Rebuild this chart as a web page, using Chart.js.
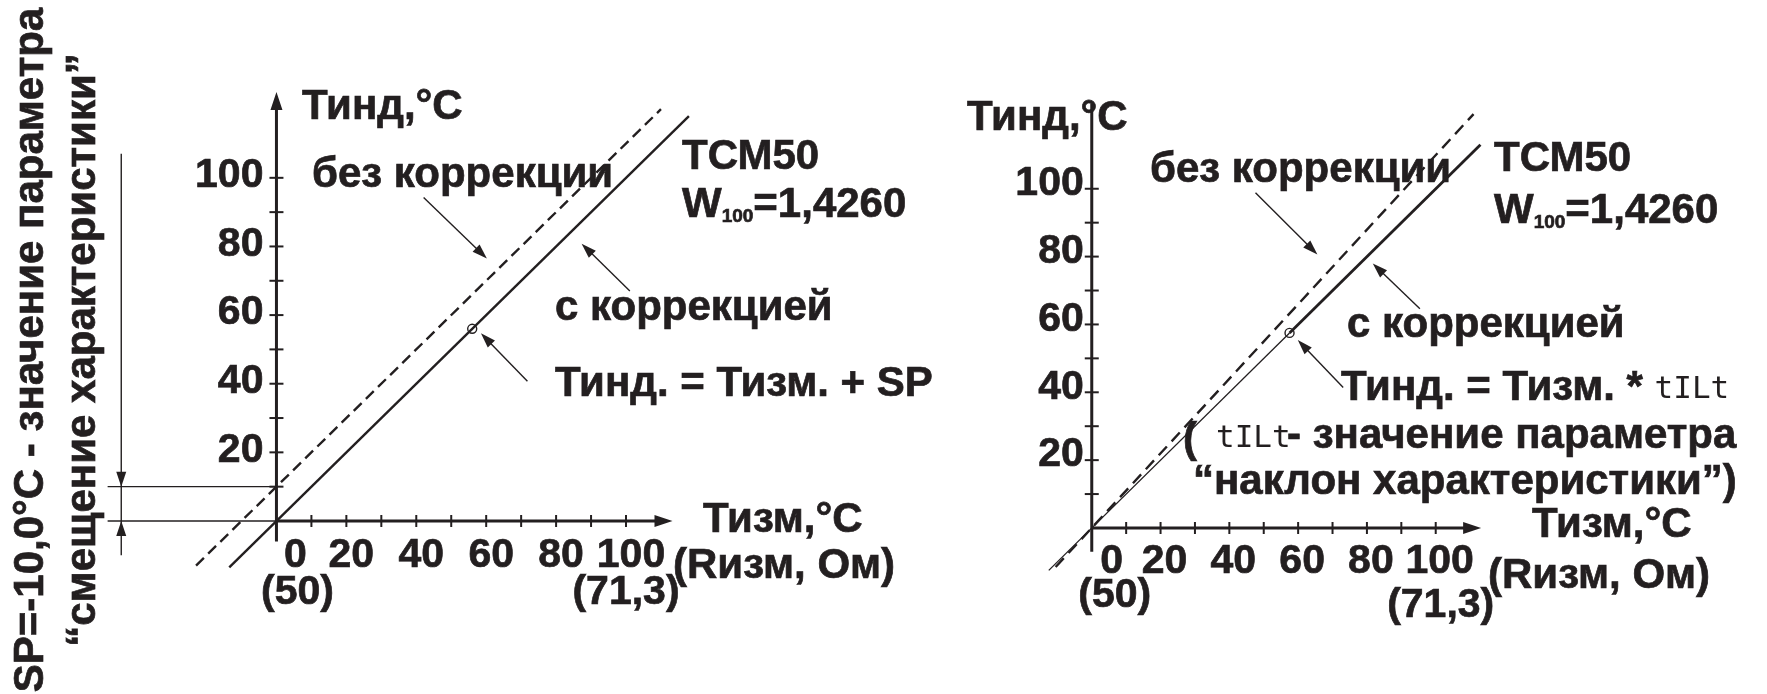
<!DOCTYPE html>
<html lang="ru">
<head>
<meta charset="utf-8">
<title>Коррекция характеристики ТСМ50</title>
<script src="https://cdn.jsdelivr.net/npm/chart.js@4.4.1/dist/chart.umd.min.js"></script>
<style>
  html, body { margin: 0; padding: 0; background: #fff; }
  #wrap { position: relative; width: 1767px; height: 694px; overflow: hidden; background: #fff; }
  canvas { position: absolute; top: 0; }
  #leftChart { left: 0; }
  #rightChart { left: 950px; }
</style>
</head>
<body>
<div id="wrap">
  <canvas id="leftChart" width="950" height="694"></canvas>
  <canvas id="rightChart" width="817" height="694"></canvas>
</div>
<script>
// --- Деления и подписи осей ---
const minorTicks = [10, 20, 30, 40, 50, 60, 70, 80, 90, 100];
const yTickValues = [20, 40, 60, 80, 100];
const yTickLabels = ['20', '40', '60', '80', '100'];
const xTickValues = [0, 20, 40, 60, 80, 100];
const xTickLabels = ['0', '20', '40', '60', '80', '100'];
const ohmTickValues = [0, 100];
const ohmTickLabels = ['(50)', '(71,3)'];

// смещение характеристики, °C
const SP = -10;

// --- Левый график: смещение ---
const leftRawX = [-23, 110];      // без коррекции
const leftRawY = [-13, 120];
const leftCorrX = [-13.5, 118];   // с коррекцией
const leftCorrY = [-13.5, 118];
const leftPointX = [56];
const leftPointY = [56];

// --- Правый график: наклон ---
const rightRawX = [-10.5, 111];
const rightRawY = [-11.5, 122];
const rightCorrThinX = [-12.5, 57.5];
const rightCorrThinY = [-12.5, 57.5];
const rightCorrX = [57.5, 113];
const rightCorrY = [57.5, 113];
const rightPointX = [57.5];
const rightPointY = [57.5];

const INK = '#231f20';
const FONT = 'bold 42px "Liberation Sans", Arial, sans-serif';
const TICK_FONT = 'bold 41px "Liberation Sans", Arial, sans-serif';
const SUB_FONT = 'bold 19px "Liberation Sans", Arial, sans-serif';
const SEG_FONT = '31px "DejaVu Sans Mono", monospace';

function toPoints(xs, ys) {
    return xs.map((x, i) => ({ x: x, y: ys[i] }));
}

function line(ctx, x1, y1, x2, y2) {
    ctx.beginPath();
    ctx.moveTo(x1, y1);
    ctx.lineTo(x2, y2);
    ctx.stroke();
}

// залитый наконечник стрелки с остриём в (x1, y1)
function head(ctx, x0, y0, x1, y1, len, half) {
    const a = Math.atan2(y1 - y0, x1 - x0);
    const bx = x1 - len * Math.cos(a), by = y1 - len * Math.sin(a);
    ctx.beginPath();
    ctx.moveTo(x1, y1);
    ctx.lineTo(bx + half * Math.sin(a), by - half * Math.cos(a));
    ctx.lineTo(bx - half * Math.sin(a), by + half * Math.cos(a));
    ctx.closePath();
    ctx.fill();
}

function pointer(ctx, x0, y0, x1, y1) {
    const a = Math.atan2(y1 - y0, x1 - x0);
    ctx.lineWidth = 1.4;
    line(ctx, x0, y0, x1 - 12 * Math.cos(a), y1 - 12 * Math.sin(a));
    head(ctx, x0, y0, x1, y1, 15, 5);
}

// текст чуть "жирнее" за счёт тонкой обводки, как в оригинале
function text(ctx, str, x, y, font, align) {
    ctx.font = font || FONT;
    ctx.textAlign = align || 'left';
    ctx.textBaseline = 'alphabetic';
    ctx.fillText(str, x, y);
    if (font !== SEG_FONT) {
        ctx.lineWidth = 0.7;
        ctx.strokeText(str, x, y);
    }
    return ctx.measureText(str).width;
}

function rotatedText(ctx, str, x, y) {
    ctx.save();
    ctx.translate(x, y);
    ctx.rotate(-Math.PI / 2);
    text(ctx, str, 0, 0, FONT, 'center');
    ctx.restore();
}

// строка "W100=1,4260" с нижним индексом
function wLine(ctx, x, y) {
    let w = text(ctx, 'W', x, y);
    w += text(ctx, '100', x + w, y + 5, SUB_FONT);
    text(ctx, '=1,4260', x + w, y);
}

const leftPanel = {
    name: 'left',
    xMin: -77.4, xMax: 191, yMin: -48.7, yMax: 150.1,
    yAxisFrom: -6, yAxisTo: 125, yArrow: true, xAxisTo: 113.3,
    yLabelGap: 13, yLabelShift: -2,
    xLabelShift: 5, xZeroShift: 19, xLabelDrop: 46,
    ohmShift: [21, 0], ohmDrop: [83, 83],
    pointers: [[42.1, 94.3, 60.2, 76.5], [101.1, 67.0, 87.3, 80.8], [71.8, 40.7, 58.5, 54.7]],
    notes(ctx) {
        text(ctx, 'Тинд,°C', 302, 119);
        text(ctx, 'без коррекции', 312, 187);
        text(ctx, 'ТСМ50', 682, 169);
        wLine(ctx, 682, 217);
        text(ctx, 'с коррекцией', 555, 320);
        text(ctx, 'Тинд. = Тизм. + SP', 555, 396);
        text(ctx, 'Тизм,°C', 703, 532);
        text(ctx, '(Rизм, Ом)', 673, 578);
        rotatedText(ctx, 'SP=-10,0°C - значение параметра', 43, 350);
        rotatedText(ctx, '“смещение характеристики”', 95, 350);
    },
    // размерная линия для SP
    extra(ctx, px, py) {
        const dimX = px(-44.4);
        ctx.lineWidth = 1.4;
        line(ctx, px(-48.3), py(-SP), px(0), py(-SP));
        line(ctx, px(-48.3), py(0), px(0), py(0));
        line(ctx, dimX, py(107), dimX, py(-10));
        head(ctx, dimX, py(107), dimX, py(-SP), 15, 5);
        head(ctx, dimX, py(-10), dimX, py(0), 15, 5);
    }
};

const rightPanel = {
    name: 'right',
    xMin: -39.5, xMax: 194.6, yMin: -47.2, yMax: 153.9,
    yAxisFrom: -7, yAxisTo: 125, yArrow: false, xAxisTo: 113.2,
    yLabelGap: 8, yLabelShift: -5,
    xLabelShift: 4, xZeroShift: 20, xLabelDrop: 45,
    ohmShift: [23, 5], ohmDrop: [79, 89],
    pointers: [[47.6, 98.8, 65.6, 80.6], [95.4, 64.6, 81.7, 78.0], [73.1, 41.4, 59.9, 55.4]],
    notes(ctx) {
        text(ctx, 'Тинд,°C', 17, 130);
        text(ctx, 'без коррекции', 200, 182);
        text(ctx, 'ТСМ50', 544, 171);
        wLine(ctx, 544, 223);
        text(ctx, 'с коррекцией', 397, 337);
        const w = text(ctx, 'Тинд. = Тизм. * ', 391, 400);
        text(ctx, 'tILt', 391 + w, 398, SEG_FONT);
        text(ctx, '(', 233, 452);
        text(ctx, 'tILt', 266, 447, SEG_FONT);
        text(ctx, '- значение параметра', 337, 448);
        text(ctx, '“наклон характеристики”)', 243, 494);
        text(ctx, 'Тизм,°C', 582, 537);
        text(ctx, '(Rизм, Ом)', 538, 588);
    },
    extra() {}
};

function makeDiagramPlugin(panel) {
    return {
        id: 'diagram_' + panel.name,
        afterDatasetsDraw(chart) {
            const ctx = chart.ctx;
            const px = v => chart.scales.x.getPixelForValue(v);
            const py = v => chart.scales.y.getPixelForValue(v);
            const x0 = px(0), y0 = py(0);

            ctx.save();
            ctx.strokeStyle = INK;
            ctx.fillStyle = INK;

            // оси
            ctx.lineWidth = 3;
            const yTop = py(panel.yAxisTo);
            line(ctx, x0, py(panel.yAxisFrom), x0, panel.yArrow ? yTop + 12 : yTop);
            if (panel.yArrow) head(ctx, x0, y0, x0, yTop, 18, 6);
            const xEnd = px(panel.xAxisTo);
            line(ctx, x0, y0, xEnd - 12, y0);
            head(ctx, x0, y0, xEnd, y0, 18, 6);

            // деления
            ctx.lineWidth = 2;
            minorTicks.forEach(v => {
                line(ctx, x0 - 7, py(v), x0 + 7, py(v));
                line(ctx, px(v), y0 - 6, px(v), y0 + 6);
            });

            // подписи делений
            yTickValues.forEach((v, i) => {
                ctx.font = TICK_FONT;
                ctx.textAlign = 'right';
                ctx.textBaseline = 'middle';
                ctx.lineWidth = 0.7;
                ctx.fillText(yTickLabels[i], x0 - panel.yLabelGap, py(v) + panel.yLabelShift);
                ctx.strokeText(yTickLabels[i], x0 - panel.yLabelGap, py(v) + panel.yLabelShift);
            });
            xTickValues.forEach((v, i) => {
                const shift = v === 0 ? panel.xZeroShift : panel.xLabelShift;
                text(ctx, xTickLabels[i], px(v) + shift, y0 + panel.xLabelDrop, TICK_FONT, 'center');
            });
            ohmTickValues.forEach((v, i) => {
                text(ctx, ohmTickLabels[i], px(v) + panel.ohmShift[i], y0 + panel.ohmDrop[i], TICK_FONT, 'center');
            });

            // стрелки-указатели
            panel.pointers.forEach(p => pointer(ctx, px(p[0]), py(p[1]), px(p[2]), py(p[3])));

            panel.extra(ctx, px, py);
            panel.notes(ctx);
            ctx.restore();
        }
    };
}

function lineSet(xs, ys, width, dash) {
    return {
        data: toPoints(xs, ys),
        showLine: true,
        borderColor: INK,
        borderWidth: width,
        borderDash: dash || [],
        pointRadius: 0,
        fill: false
    };
}

function pointSet(xs, ys) {
    return {
        data: toPoints(xs, ys),
        showLine: false,
        pointStyle: 'circle',
        pointRadius: 4.5,
        pointBorderWidth: 1.4,
        pointBorderColor: INK,
        pointBackgroundColor: '#fff'
    };
}

function buildChart(canvasId, panel, datasets) {
    console.log('[Diagram] building', panel.name);
    return new Chart(document.getElementById(canvasId), {
        type: 'scatter',
        data: { datasets: datasets },
        options: {
            responsive: false,
            animation: false,
            events: [],
            layout: { padding: 0 },
            plugins: { legend: { display: false }, tooltip: { enabled: false } },
            scales: {
                x: { type: 'linear', display: false, min: panel.xMin, max: panel.xMax },
                y: { type: 'linear', display: false, min: panel.yMin, max: panel.yMax }
            }
        },
        plugins: [makeDiagramPlugin(panel)]
    });
}

document.addEventListener('DOMContentLoaded', () => {
    try {
        buildChart('leftChart', leftPanel, [
            lineSet(leftRawX, leftRawY, 2.4, [11, 6]),
            lineSet(leftCorrX, leftCorrY, 2.4),
            pointSet(leftPointX, leftPointY)
        ]);
        buildChart('rightChart', rightPanel, [
            lineSet(rightRawX, rightRawY, 2.4, [12, 7]),
            lineSet(rightCorrThinX, rightCorrThinY, 1.3),
            lineSet(rightCorrX, rightCorrY, 2.8),
            pointSet(rightPointX, rightPointY)
        ]);
    } catch (e) {
        console.error('[Diagram] error:', e);
    }
});
</script>
</body>
</html>
